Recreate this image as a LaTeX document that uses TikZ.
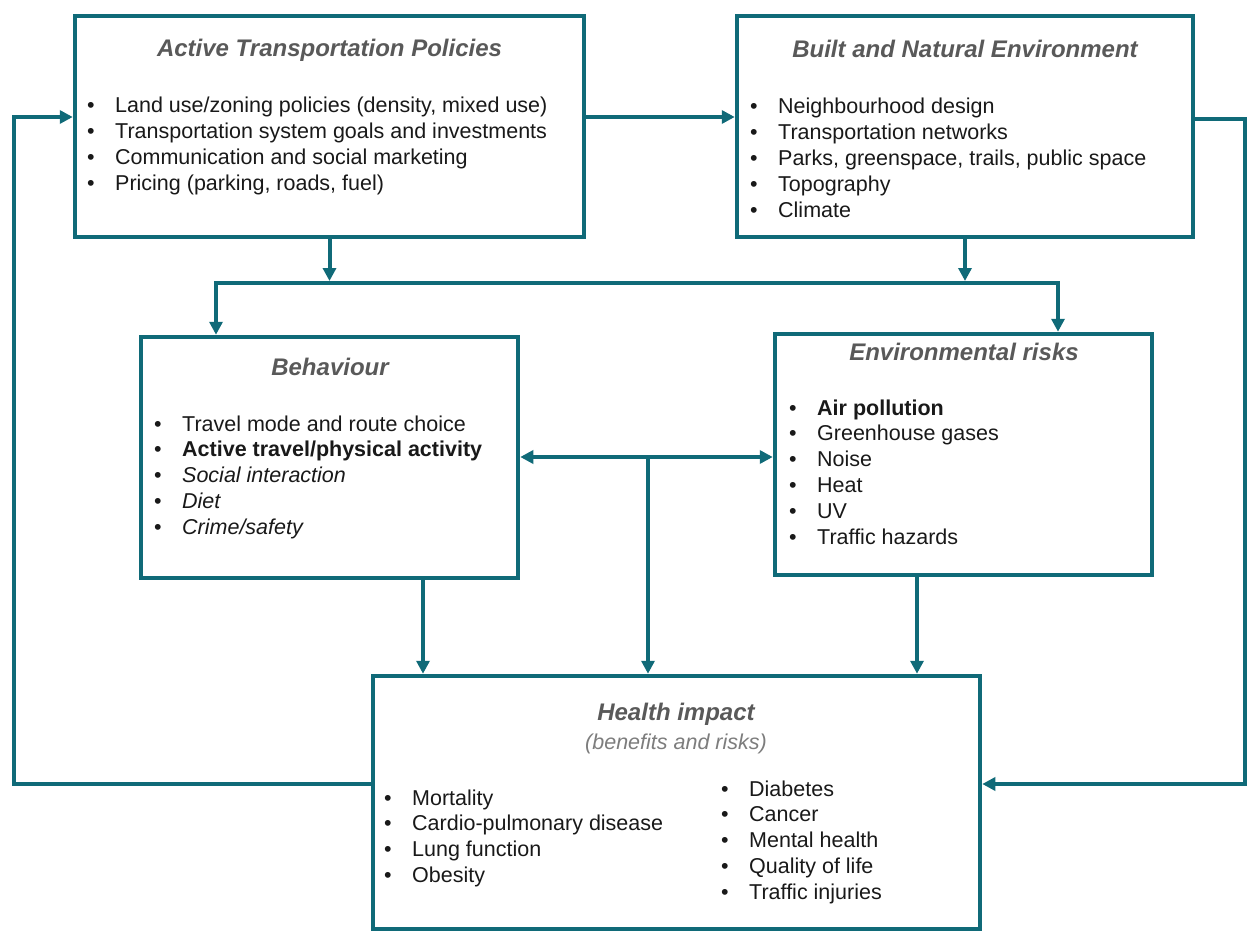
\documentclass[tikz,border=0pt]{standalone}
\usepackage{fontspec}
\setmainfont{Liberation Sans}
\usetikzlibrary{arrows.meta}
\definecolor{teal1}{RGB}{16,106,120}
\definecolor{titlegray}{RGB}{89,89,89}
\definecolor{subgray}{RGB}{125,125,125}
\definecolor{bodyblack}{RGB}{25,25,25}
\newcommand\itm[1]{\hbox{\makebox[28pt][l]{•}#1}}
\newcommand\lst[1]{\vtop{\baselineskip=25.8pt\lineskiplimit=-20pt #1}}
\begin{document}
\begin{tikzpicture}[x=1pt,y=-1pt,
  box/.style={draw=teal1,line width=4.5pt,inner sep=0pt,fill=white},
  ttl/.style={font=\fontsize{24}{28}\selectfont\bfseries\itshape,text=titlegray,inner sep=0pt,anchor=base},
  subttl/.style={font=\fontsize{21.5}{26}\selectfont\itshape,text=subgray,inner sep=0pt,anchor=base},
  lstnode/.style={font=\fontsize{21.5}{25.8}\selectfont,text=bodyblack,inner sep=0pt,anchor=base west},
  conn/.style={draw=teal1,line width=4pt},
  arr/.style={conn,-{Triangle[length=13pt,width=13pt]}},
  darr/.style={conn,{Triangle[length=13pt,width=13pt]}-{Triangle[length=13pt,width=13pt]}}]
\useasboundingbox[fill=white] (0,0) rectangle (1248,931);

% boxes
\node[box,minimum width=509pt,minimum height=221pt] (atp) at (329.5,126.5) {};
\node[box,minimum width=456pt,minimum height=221pt] (bne) at (965,126.5) {};
\node[box,minimum width=377pt,minimum height=241pt] (beh) at (329.5,457.5) {};
\node[box,minimum width=377pt,minimum height=241pt] (env) at (963.5,454.5) {};
\node[box,minimum width=607pt,minimum height=253pt] (hlt) at (676.5,802.5) {};

% titles
\node[ttl] (atpT) at (329.5,57) {Active Transportation Policies};
\node[ttl] (bneT) at (965,58) {Built and Natural Environment};
\node[ttl] (behT) at (330,375) {Behaviour};
\node[ttl] (envT) at (964,360) {Environmental risks};
\node[ttl] (hltT) at (676,720) {Health impact};
\node[subttl] (hltS) at (676,749) {(benefits and risks)};

% lists
\node[lstnode] (atpL) at (87,113) {\lst{%
  \itm{Land use/zoning policies (density, mixed use)}
  \itm{Transportation system goals and investments}
  \itm{Communication and social marketing}
  \itm{Pricing (parking, roads, fuel)}}};
\node[lstnode] (bneL) at (750,114) {\lst{%
  \itm{Neighbourhood design}
  \itm{Transportation networks}
  \itm{Parks, greenspace, trails, public space}
  \itm{Topography}
  \itm{Climate}}};
\node[lstnode] (behL) at (154,431) {\lst{%
  \itm{Travel mode and route choice}
  \itm{\textbf{Active travel/physical activity}}
  \itm{\textit{Social interaction}}
  \itm{\textit{Diet}}
  \itm{\textit{Crime/safety}}}};
\node[lstnode] (envL) at (789,415) {\lst{%
  \itm{\textbf{Air pollution}}
  \itm{Greenhouse gases}
  \itm{Noise}
  \itm{Heat}
  \itm{UV}
  \itm{Traffic hazards}}};
\node[lstnode] (hltL) at (384,805) {\lst{%
  \itm{Mortality}
  \itm{Cardio-pulmonary disease}
  \itm{Lung function}
  \itm{Obesity}}};
\node[lstnode] (hltR) at (721,796) {\lst{%
  \itm{Diabetes}
  \itm{Cancer}
  \itm{Mental health}
  \itm{Quality of life}
  \itm{Traffic injuries}}};

% connectors
\coordinate (hL) at (216,283);
\coordinate (hR) at (1058,283);
\coordinate (jm) at (648,457);
\coordinate (fl) at (13.5,450);
\coordinate (fr) at (1245,450);

\draw[arr] ([yshift=9.5pt]atp.east) -- ([yshift=9.5pt]bne.west);
\draw[arr] (atp.south) -- (atp.south |- 0,281);
\draw[arr] (bne.south) -- (bne.south |- 0,281);
\draw[darr] (hL |- beh.north) -- (hL) -- (hR) -- (hR |- env.north);
\draw[darr] ([yshift=0.5pt]beh.east) -- ([yshift=-2.5pt]env.west);
\draw[arr] (jm) -- (jm |- hlt.north);
\draw[arr] ([xshift=93.5pt]beh.south) -- ([xshift=93.5pt]beh.south |- hlt.north);
\draw[arr] ([xshift=-46.5pt]env.south) -- ([xshift=-46.5pt]env.south |- hlt.north);
\draw[arr] ([yshift=18.5pt]hlt.west) -| (fl) |- ([yshift=9.5pt]atp.west);
\draw[arr] ([yshift=7pt]bne.east) -| (fr) |- ([yshift=18.5pt]hlt.east);
\end{tikzpicture}
\end{document}
